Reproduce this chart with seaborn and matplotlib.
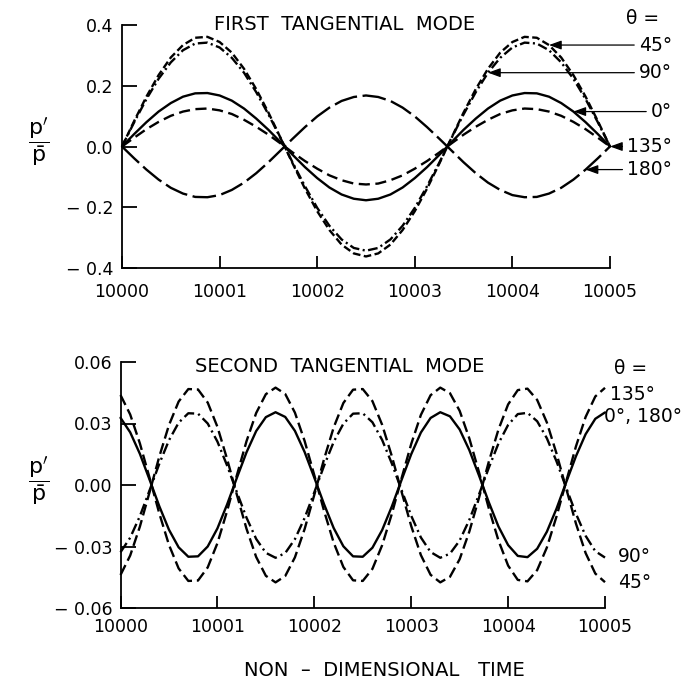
import numpy as np
import matplotlib
matplotlib.use("Agg")
import matplotlib.pyplot as plt
import matplotlib.transforms as mtransforms
import seaborn as sns

# ---------------- data ----------------
time_first = np.linspace(10000, 10005, 41)
first_0 = [0, .041, .080, .115, .143, .164, .175, .176, .168, .151, .125, .092, .055, .014, -.028,
           -.068, -.104, -.135, -.158, -.172, -.177, -.172, -.158, -.135, -.104, -.068, -.028, .014,
           .055, .092, .125, .151, .168, .176, .175, .164, .143, .115, .080, .041, 0]
first_45 = [0, .084, .164, .235, .293, .334, .358, .361, .344, .309, .256, .189, .112, .028, -.057,
            -.139, -.213, -.275, -.323, -.352, -.362, -.352, -.323, -.275, -.213, -.139, -.057, .028,
            .112, .189, .256, .309, .344, .361, .358, .334, .293, .235, .164, .084, 0]
first_90 = [0, .080, .156, .223, .277, .317, .339, .342, .326, .292, .243, .179, .106, .027, -.054,
            -.131, -.202, -.261, -.306, -.334, -.343, -.334, -.306, -.261, -.202, -.131, -.054, .027,
            .106, .179, .243, .292, .326, .342, .339, .317, .277, .223, .156, .080, 0]
first_135 = [0, .029, .057, .081, .101, .115, .123, .125, .119, .107, .088, .065, .039, .010, -.020,
             -.048, -.073, -.095, -.111, -.122, -.125, -.122, -.111, -.095, -.073, -.048, -.020, .010,
             .039, .065, .088, .107, .119, .125, .123, .115, .101, .081, .057, .029, 0]
first_180 = [0, -.039, -.076, -.109, -.136, -.155, -.166, -.167, -.160, -.143, -.119, -.088, -.052,
             -.013, .026, .064, .099, .128, .150, .163, .168, .163, .150, .128, .099, .064, .026,
             -.013, -.052, -.088, -.119, -.143, -.160, -.167, -.166, -.155, -.136, -.109, -.076,
             -.039, 0]

time_second = np.linspace(10000, 10005, 51)
second_135 = [.0439, .0344, .0203, .0035, -.0138, -.0292, -.0407, -.0468, -.0466, -.0402, -.0284,
              -.0127, .0046, .0213, .0351, .0443, .0475, .0444, .0353, .0215, .0048, -.0125, -.0281,
              -.0400, -.0465, -.0468, -.0409, -.0294, -.0141, .0032, .0200, .0342, .0438, .0475,
              .0448, .0362, .0227, .0062, -.0112, -.0270, -.0393, -.0463, -.0470, -.0415, -.0305,
              -.0153, .0018, .0188, .0332, .0432, .0474]
second_45 = [-.0439, -.0344, -.0203, -.0035, .0138, .0292, .0407, .0468, .0466, .0402, .0284,
             .0127, -.0046, -.0213, -.0351, -.0443, -.0475, -.0444, -.0353, -.0215, -.0048, .0125,
             .0281, .0400, .0465, .0468, .0409, .0294, .0141, -.0032, -.0200, -.0342, -.0438, -.0475,
             -.0448, -.0362, -.0227, -.0062, .0112, .0270, .0393, .0463, .0470, .0415, .0305,
             .0153, -.0018, -.0188, -.0332, -.0432, -.0474]
second_0_180 = [.0328, .0257, .0152, .0026, -.0103, -.0218, -.0304, -.0350, -.0348, -.0300, -.0212,
                -.0095, .0034, .0159, .0263, .0331, .0355, .0332, .0264, .0161, .0036, -.0093,
                -.0210, -.0299, -.0348, -.0350, -.0306, -.0220, -.0105, .0024, .0150, .0256, .0327,
                .0355, .0335, .0271, .0170, .0046, -.0083, -.0202, -.0293, -.0346, -.0352, -.0311,
                -.0228, -.0115, .0014, .0140, .0248, .0323, .0354]
second_90 = [-.0328, -.0257, -.0152, -.0026, .0103, .0218, .0304, .0350, .0348, .0300, .0212,
             .0095, -.0034, -.0159, -.0263, -.0331, -.0355, -.0332, -.0264, -.0161, -.0036, .0093,
             .0210, .0299, .0348, .0350, .0306, .0220, .0105, -.0024, -.0150, -.0256, -.0327,
             -.0355, -.0335, -.0271, -.0170, -.0046, .0083, .0202, .0293, .0346, .0352, .0311,
             .0228, .0115, -.0014, -.0140, -.0248, -.0323, -.0354]

x_ticks = [10000, 10001, 10002, 10003, 10004, 10005]
x_ticklabels = ["10000", "10001", "10002", "10003", "10004", "10005"]
y_first_ticks = [-0.4, -0.2, 0.0, 0.2, 0.4]
y_first_ticklabels = ["\u2212 0.4", "\u2212 0.2", "0.0", "0.2", "0.4"]
y_second_ticks = [-0.06, -0.03, 0.0, 0.03, 0.06]
y_second_ticklabels = ["\u2212 0.06", "\u2212 0.03", "0.00", "0.03", "0.06"]

title_first = "FIRST  TANGENTIAL  MODE"
title_second = "SECOND  TANGENTIAL  MODE"
x_label = "NON  \u2013  DIMENSIONAL   TIME"
y_label = r"$\dfrac{\mathrm{p}^{\prime}}{\bar{\mathrm{p}}}$"
theta_label = "\u03b8 ="

# ---------------- style ----------------
sns.set_theme(style="ticks", rc={
    "axes.edgecolor": "black", "axes.linewidth": 1.3,
    "xtick.color": "black", "ytick.color": "black",
    "text.color": "black", "axes.labelcolor": "black",
    "lines.scale_dashes": False, "mathtext.fontset": "dejavusans",
    "axes.facecolor": "white", "figure.facecolor": "white",
})
plt.rcParams["font.family"] = ["DejaVu Sans"]

W, H = 688, 685
fig = plt.figure(figsize=(W / 100, H / 100), dpi=100)

ax1 = fig.add_axes([122 / W, (H - 268) / H, (610 - 122) / W, (268 - 25) / H])
ax2 = fig.add_axes([120.5 / W, (H - 608) / H, (605 - 120.5) / W, (608 - 362) / H])

LW = 1.7


def draw(ax, t, y, ls):
    sns.lineplot(x=t, y=y, ax=ax, color="black", linewidth=LW, linestyle=ls,
                 estimator=None, legend=False)


# first tangential mode
draw(ax1, time_first, first_0, "-")
draw(ax1, time_first, first_135, (0, (8, 4)))
draw(ax1, time_first, first_180, (0, (17, 4)))
draw(ax1, time_first, first_45, (0, (5.5, 2.5)))
draw(ax1, time_first, first_90, (0, (7, 2.5, 1.5, 2.5)))

# second tangential mode
draw(ax2, time_second, second_135, (0, (8, 3.5)))
draw(ax2, time_second, second_45, (0, (8, 3.5)))
draw(ax2, time_second, second_0_180, "-")
draw(ax2, time_second, second_90, (0, (8, 3, 1.5, 3)))

for ax, yt, ytl, ylim, xpad in [
    (ax1, y_first_ticks, y_first_ticklabels, (-0.4, 0.4), 10.5),
    (ax2, y_second_ticks, y_second_ticklabels, (-0.06, 0.06), 7.5),
]:
    ax.set_xlim(10000, 10005)
    ax.set_ylim(*ylim)
    ax.set_xticks(x_ticks)
    ax.set_xticklabels(x_ticklabels)
    ax.set_yticks(yt)
    ax.set_yticklabels(ytl)
    ax.tick_params(axis="y", direction="in", length=11, width=1.3, pad=6, labelsize=12.5)
    ax.tick_params(axis="x", direction="in", length=9, width=1.3, pad=xpad, labelsize=12.5)
    sns.despine(ax=ax)
    ax.set_xlabel("")
    ax.set_ylabel(y_label, rotation=0, fontsize=16, ha="center", va="center")
    ax.yaxis.set_label_coords(-0.17, 0.52)
    for ln in ax.get_lines():
        ln.set_clip_on(False)

# titles and labels
fig.text(345 / W, (H - 24) / H, title_first, ha="center", va="center", fontsize=14)
fig.text(340 / W, (H - 366) / H, title_second, ha="center", va="center", fontsize=14)
fig.text(384 / W, (H - 670) / H, x_label, ha="center", va="center", fontsize=14)
fig.text(643 / W, (H - 18) / H, theta_label, ha="center", va="center", fontsize=13.5)
fig.text(631 / W, (H - 368) / H, theta_label, ha="center", va="center", fontsize=13.5)

# first-mode labels with arrows pointing to the curves
blend = mtransforms.blended_transform_factory(fig.transFigure, ax1.transData)
arrow_props = dict(arrowstyle="-|>,head_length=0.55,head_width=0.2", color="black",
                   lw=0.9, shrinkA=1, shrinkB=0)
for name, series, k in [("45\u00b0", first_45, 35), ("90\u00b0", first_90, 30),
                        ("0\u00b0", first_0, 37), ("135\u00b0", first_135, 40),
                        ("180\u00b0", first_180, 38)]:
    ax1.annotate(name, xy=(time_first[k], series[k]), xycoords="data",
                 xytext=(672 / W, series[k]), textcoords=blend,
                 ha="right", va="center", fontsize=13.5, arrowprops=arrow_props,
                 annotation_clip=False)

# second-mode labels
for name, xpx, ypx in [("135\u00b0", 610, 395), ("0\u00b0, 180\u00b0", 604, 417),
                       ("90\u00b0", 618, 557), ("45\u00b0", 618, 583)]:
    fig.text(xpx / W, (H - ypx) / H, name, ha="left", va="center", fontsize=13.5)

fig.savefig("out.png", dpi=100)
